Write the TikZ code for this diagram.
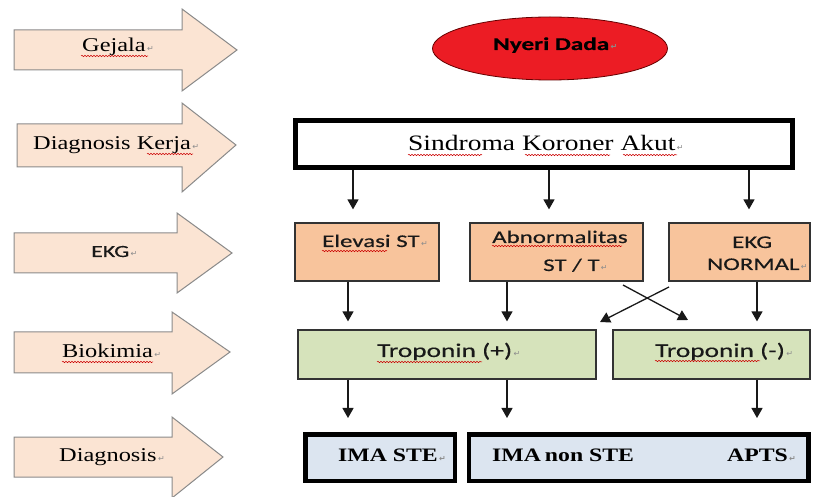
\documentclass[tikz,border=0pt]{standalone}
\usepackage{fontspec}
\usetikzlibrary{arrows.meta,shapes.geometric,decorations.pathmorphing}

\newfontfamily\fserif[FakeStretch=1.25]{Liberation Serif}
\newfontfamily\fsans[FakeStretch=1.4,FakeBold=0.4]{Carlito}
\newfontfamily\fsym{DejaVu Sans}

% paragraph mark that trails each text
\newcommand\pmark{{\fsym\color{black!45}\fontsize{8}{8}\selectfont\,↵}}

\definecolor{peach}{HTML}{FBE4D3}
\definecolor{peachline}{HTML}{8A8A8A}
\definecolor{ekgfill}{HTML}{F8C49C}
\definecolor{tropfill}{HTML}{D6E3BB}
\definecolor{diagfill}{HTML}{DCE5F0}
\definecolor{nyerired}{HTML}{EC1C24}

\tikzset{
  lanearrow/.style={draw=peachline, fill=peach, line width=1pt, line join=miter},
  lanelbl/.style={anchor=base west, inner sep=0, text=black,
    font={\fserif\fontsize{19.5}{22}\selectfont}},
  sanslbl/.style={anchor=base west, inner sep=0, text=black!90,
    font={\fsans\fontsize{17.8}{20}\selectfont}},
  boldserif/.style={anchor=base west, inner sep=0, text=black,
    font={\fserif\bfseries\fontsize{19}{22}\selectfont}},
  ekgbox/.style={draw=black!80, fill=ekgfill, line width=1.2pt,
    minimum height=58pt, inner sep=0},
  tropbox/.style={draw=black!80, fill=tropfill, line width=1.2pt,
    minimum height=49pt, inner sep=0},
  diagbox/.style={draw=black, fill=diagfill, line width=4.5pt,
    minimum height=46.5pt, inner sep=0},
  flow/.style={-{Triangle[width=11pt,length=10pt]}, line width=1.3pt, black!90},
  squiggle/.style={draw=red!80!black, line width=0.5pt,
    decorate, decoration={snake, amplitude=0.7pt, segment length=3pt}},
}

\begin{document}
\begin{tikzpicture}[x=1pt, y=-1pt]
\useasboundingbox (0,0) rectangle (815,497);

% ---- stage arrows on the left ----
\draw[lanearrow] (14,30) -- (182,30) -- (182,9) -- (237,50) -- (182,91) -- (182,70) -- (14,70) -- cycle;
\draw[lanearrow] (17,124) -- (182,124) -- (182,103) -- (236,145) -- (182,192) -- (182,167) -- (17,167) -- cycle;
\draw[lanearrow] (14,233) -- (177,233) -- (177,213) -- (232,253) -- (177,293) -- (177,273) -- (14,273) -- cycle;
\draw[lanearrow] (14,332) -- (172,332) -- (172,312) -- (230,352) -- (172,394) -- (172,373) -- (14,373) -- cycle;
\draw[lanearrow] (14,437) -- (172,437) -- (172,417) -- (223,457) -- (172,498) -- (172,477) -- (14,477) -- cycle;

\node[lanelbl] (lgejala) at (82,52) {Gejala\pmark};
\node[lanelbl] (lkerja) at (33,150) {Diagnosis Kerja\pmark};
\node[anchor=base west, inner sep=0, text=black!90,
      font={\fsans\fontsize{17}{19}\selectfont}] (lekg) at (91,257) {EKG\pmark};
\node[lanelbl] (lbio) at (62,358) {Biokimia\pmark};
\node[lanelbl] (ldiag) at (59,461) {Diagnosis\pmark};

% ---- symptom ----
\node[ellipse, draw=black!60!red, line width=0.8pt, fill=nyerired,
      minimum width=235pt, minimum height=63pt, inner sep=0] (nyeri) at (550,48.5) {};
\node[anchor=base west, inner sep=0, text=black,
      font={\fsans\bfseries\fontsize{18}{20}\selectfont}] (tnyeri) at (493,50) {Nyeri Dada\pmark};

% ---- working diagnosis ----
\node[draw=black, line width=5pt, fill=white, minimum width=497pt,
      minimum height=47pt, inner sep=0] (ska) at (544,144) {};
\node[anchor=base west, inner sep=0, text=black,
      font={\fserif\fontsize{22}{24}\selectfont}] (tska) at (408,151) {Sindroma Koroner Akut\pmark};

% ---- ECG findings ----
\node[ekgbox, minimum width=144pt] (elev) at (367,252) {};
\node[ekgbox, minimum width=173pt] (abn) at (556.5,252) {};
\node[ekgbox, minimum width=141pt] (ekgn) at (739.5,252) {};
\node[sanslbl] (telev) at (322,247) {Elevasi ST\pmark};
\node[sanslbl] (tabn1) at (492,243) {Abnormalitas};
\node[sanslbl] (tabn2) at (543,271) {ST / T\pmark};
\node[sanslbl] (tekg1) at (732,248) {EKG};
\node[sanslbl] (tekg2) at (707,270) {NORMAL\pmark};

% ---- biochemistry ----
\node[tropbox, minimum width=298pt] (tplus) at (447,354.5) {};
\node[tropbox, minimum width=197pt] (tmin) at (711.5,354.5) {};
\node[sanslbl, font={\fsans\fontsize{19.5}{22}\selectfont}] (ttplus) at (377,357) {Troponin (+)\pmark};
\node[sanslbl, font={\fsans\fontsize{19.5}{22}\selectfont}] (ttmin) at (655,357) {Troponin (-)\pmark};

% ---- final diagnosis ----
\node[diagbox, minimum width=149.5pt] (ima) at (380,457.5) {};
\node[diagbox, minimum width=339.5pt] (imanon) at (638.5,457.5) {};
\node[boldserif] (tima) at (338,461) {IMA STE\pmark};
\node[boldserif] (timanon) at (492,461) {IMA\hspace{-2pt} non STE};
\node[boldserif] (tapts) at (727,461) {APTS\pmark};

% ---- spell-check underlines ----
\draw[squiggle] (81,56) -- (148,56);
\draw[squiggle] (147,154) -- (193,154);
\draw[squiggle] (62,362) -- (153,362);
\draw[squiggle] (408,155) -- (482,155);
\draw[squiggle] (525,155) -- (610,155);
\draw[squiggle] (623,155) -- (677,155);
\draw[squiggle] (322,251) -- (387,251);
\draw[squiggle] (492,246) -- (622,246);
\draw[squiggle] (377,362) -- (482,362);
\draw[squiggle] (655,361) -- (760,361);

% ---- column positions of the connectors ----
\coordinate (k1) at (353,0);
\coordinate (k2) at (549,0);
\coordinate (k3) at (749,0);
\coordinate (m1) at (348,0);
\coordinate (m2) at (507,0);
\coordinate (m3) at (757,0);
\coordinate (xa) at (623,285);
\coordinate (xb) at (688,320);
\coordinate (xc) at (669,287);
\coordinate (xd) at (600,322);

% SKA to ECG findings
\draw[flow, shorten >=13pt] (ska.south -| k1) -- (elev.north -| k1);
\draw[flow, shorten >=13pt] (ska.south -| k2) -- (abn.north -| k2);
\draw[flow, shorten >=13pt] (ska.south -| k3) -- (ekgn.north -| k3);

% ECG findings to troponin
\draw[flow, shorten >=8pt] (elev.south -| m1) -- (tplus.north -| m1);
\draw[flow, shorten >=8pt] (abn.south -| m2) -- (tplus.north -| m2);
\draw[flow, shorten >=8pt] (ekgn.south -| m3) -- (tmin.north -| m3);
\draw[flow] (xa) -- (xb);
\draw[flow] (xc) -- (xd);

% troponin to final diagnosis
\draw[flow, shorten >=14pt] (tplus.south -| m1) -- (ima.north -| m1);
\draw[flow, shorten >=14pt] (tplus.south -| m2) -- (imanon.north -| m2);
\draw[flow, shorten >=14pt] (tmin.south -| m3) -- (imanon.north -| m3);
\end{tikzpicture}
\end{document}
